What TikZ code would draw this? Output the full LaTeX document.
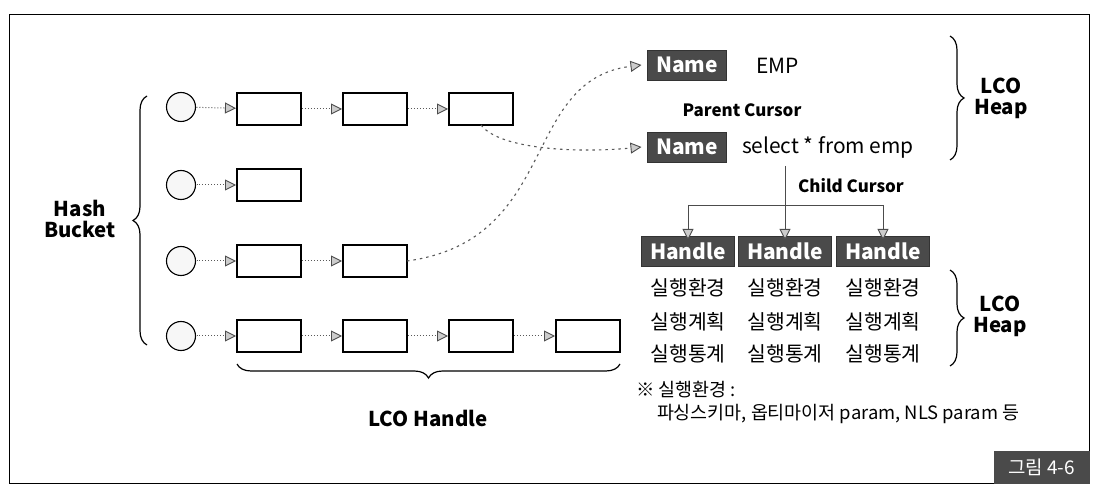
\documentclass[tikz,border=0pt]{standalone}
\usepackage{fontspec}
\setmainfont{Noto Sans CJK KR}
\usetikzlibrary{arrows.meta,decorations.pathreplacing}
\definecolor{boxgray}{HTML}{4A4A4A}
\begin{document}
\begin{tikzpicture}[x=1bp,y=-1bp,
  every node/.style={inner sep=0pt, outer sep=0pt},
  tip/.style={-{Triangle[length=11bp,width=11bp,line width=0.9bp,color=gray!60!black,fill=gray!40]}},
  bucket/.style={circle, draw=black, line width=1.1bp, fill=gray!6, minimum size=29bp},
  handlebox/.style={draw=black, line width=1.3bp, fill=white, minimum width=64bp, minimum height=32bp},
  link/.style={tip, gray!70!black, line width=1bp, dotted, shorten <=1bp, shorten >=1bp},
  dlink/.style={tip, gray!70!black, line width=1.1bp, dash pattern=on 2.5bp off 4bp},
  brc/.style={decorate, decoration={brace, amplitude=14bp, aspect=0.5}, line width=1.2bp},
  darkbox/.style={fill=boxgray, draw=gray!40!black, text=white, font=\fontsize{21}{23}\selectfont\bfseries, minimum height=30bp},
  lbl/.style={font=\fontsize{20.5}{24}\selectfont\bfseries, align=center},
  small/.style={font=\fontsize{17}{20}\selectfont\bfseries},
  txt/.style={font=\fontsize{21}{24}\selectfont},
  kor/.style={font=\fontsize{20.5}{23}\selectfont},
  cline/.style={gray!60!black, line width=0.9bp},
  carrow/.style={tip, gray!60!black, line width=0.9bp}
]
\useasboundingbox (0,0) rectangle (1104,496);
% frame
\draw[line width=1bp] (9,15) rectangle (1089,483);

% buckets and handles
\node[bucket] (b1) at (181,107) {};
\node[bucket] (b2) at (181,185) {};
\node[bucket] (b3) at (181,261) {};
\node[bucket] (b4) at (181,336) {};

\node[handlebox] (r11) at (269,109) {};
\node[handlebox] (r12) at (375,109) {};
\node[handlebox] (r13) at (481,109) {};
\node[handlebox] (r21) at (269,185) {};
\node[handlebox] (r31) at (269,261) {};
\node[handlebox] (r32) at (375,261) {};
\node[handlebox] (r41) at (269,336) {};
\node[handlebox] (r42) at (375,336) {};
\node[handlebox] (r43) at (481,336) {};
\node[handlebox] (r44) at (588,336) {};

\draw[link] (b1) -- (r11);
\draw[link] (r11) -- (r12);
\draw[link] (r12) -- (r13);
\draw[link] (b2) -- (r21);
\draw[link] (b3) -- (r31);
\draw[link] (r31) -- (r32);
\draw[link] (b4) -- (r41);
\draw[link] (r41) -- (r42);
\draw[link] (r42) -- (r43);
\draw[link] (r43) -- (r44);

% braces left and bottom
\draw[brc] (147,345) -- (147,96);
\node[lbl] (hb) at (80,219) {Hash\\[-3bp]Bucket};
\draw[brc] (620,364) -- (237,364);
\node[lbl] (lh) at (428,418) {LCO Handle};

% right top
\node[darkbox, minimum width=79bp] (n1) at (687,65) {Name};
\node[txt, anchor=west] (emp) at (756,66) {EMP};
\node[small] (pc) at (742,110) {Parent Cursor};
\node[darkbox, minimum width=79bp] (n2) at (687,147) {Name};
\node[txt, anchor=west] (sel) at (742,147) {select * from emp};
\draw[brc] (950,36) -- (950,160);
\node[lbl] (heap1) at (1001,98) {LCO\\[-3bp]Heap};

\draw[dlink] (r13.south) .. controls (500,150) and (580,153) .. ([xshift=-6bp]n2.west);
\draw[dlink] (r32.east) .. controls (560,240) and (520,80) .. ([xshift=-6bp]n1.west);

% child cursor
\node[darkbox, minimum width=93bp] (h1) at (688,251) {Handle};
\node[darkbox, minimum width=93bp] (h2) at (785,251) {Handle};
\node[darkbox, minimum width=93bp] (h3) at (883,251) {Handle};
\coordinate (ctop) at (785,166);
\coordinate (cmid) at (785,205);
\draw[cline] (ctop) -- (cmid);
\draw[cline] (cmid -| h1) -- (cmid -| h3);
\draw[carrow] (cmid -| h1) -- ([yshift=-4bp]h1.north);
\draw[carrow] (cmid) -- ([yshift=-4bp]h2.north);
\draw[carrow] (cmid -| h3) -- ([yshift=-4bp]h3.north);
\node[small] (cc) at (851,186) {Child Cursor};

\foreach \h/\x in {a/688,b/785,c/883}{
  \node[kor] (e\h) at (\x,288) {실행환경};
  \node[kor] (p\h) at (\x,322) {실행계획};
  \node[kor] (s\h) at (\x,354) {실행통계};
}
\draw[brc] (950,270) -- (950,366);
\node[lbl] (heap2) at (1000,316) {LCO\\[-3bp]Heap};

\node[font=\fontsize{18.5}{20}\selectfont, anchor=west] (note1) at (636,390) {※ 실행환경 :};
\node[font=\fontsize{18.5}{20}\selectfont, anchor=west] (note2) at (657,414) {파싱스키마, 옵티마이저 param, NLS param 등};

% tag
\node[fill=boxgray, text=white, font=\fontsize{19}{22}\selectfont, minimum width=96bp, minimum height=33bp, anchor=south east] (tag) at (1089.5,483.5) {그림 4-6};
\end{tikzpicture}
\end{document}
